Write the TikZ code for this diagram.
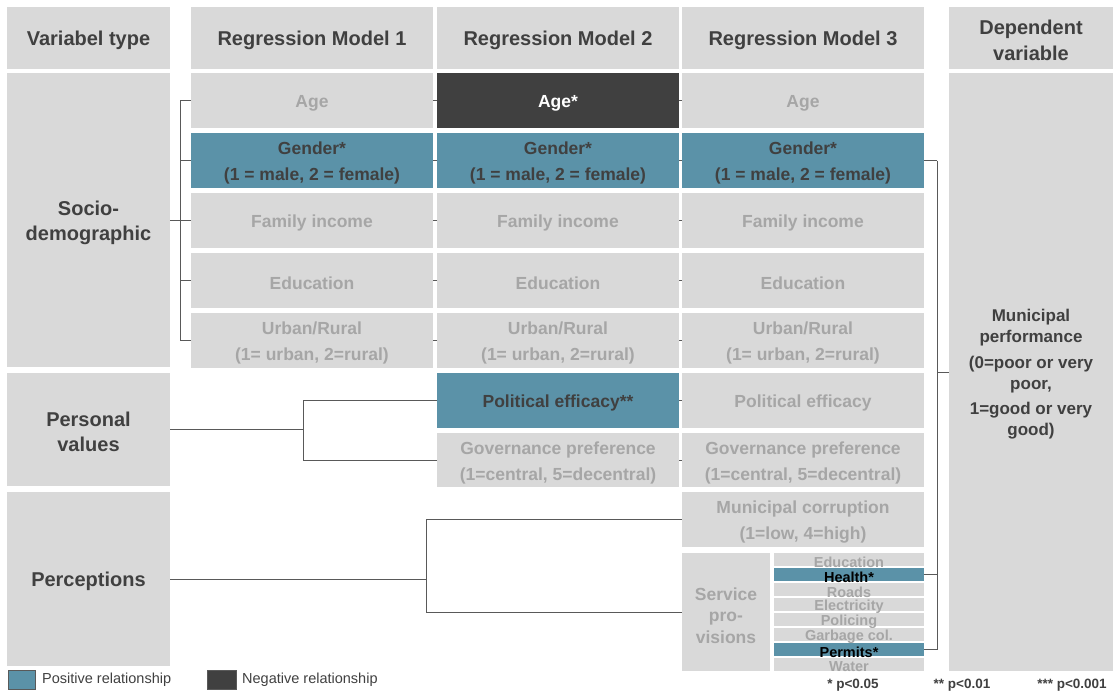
\documentclass[tikz,border=0pt]{standalone}
\usepackage{fontspec}
\setmainfont{Liberation Sans}
\definecolor{boxgray}{HTML}{D9D9D9}
\definecolor{tealbox}{HTML}{5B92A8}
\definecolor{darkbox}{HTML}{404040}
\definecolor{txtdark}{HTML}{404040}
\definecolor{txtlight}{HTML}{A6A6A6}
\definecolor{linec}{HTML}{595959}
\pgfdeclarelayer{bg}
\pgfsetlayers{bg,main}
\tikzset{
  boxg/.style={fill=boxgray, draw=none, inner sep=0pt},
  boxt/.style={fill=tealbox, draw=none, inner sep=0pt},
  boxd/.style={fill=darkbox, draw=none, inner sep=0pt},
  tl/.style={inner sep=0pt, align=center, yshift=-2.5pt,
    font=\bfseries\fontsize{17.5}{26}\selectfont, text=txtlight},
  td/.style={tl, text=txtdark},
  tw/.style={tl, text=white},
  th/.style={tl, text=txtdark, font=\bfseries\fontsize{20}{26}\selectfont},
  tsd/.style={th, font=\bfseries\fontsize{20}{25}\selectfont},
  ti/.style={tl, yshift=0pt, font=\bfseries\fontsize{14.5}{14.5}\selectfont},
  tib/.style={ti, text=black},
  conn/.style={draw=linec, line width=0.9pt},
  legtext/.style={anchor=west, inner sep=0pt, text=txtdark, font=\fontsize{14.5}{16}\selectfont},
  ptext/.style={inner sep=0pt, text=txtdark, font=\bfseries\fontsize{13.5}{16}\selectfont},
}
% name, box style, text style, x1, y1, x2, y2, text
\newcommand\cellbox[8]{%
  \node[#2, minimum width={#6-#4}, minimum height={#7-#5}] (#1) at ({(#4+#6)/2},{(#5+#7)/2}) {};
  \node[#3] (#1t) at (#1.center) {#8};}
\begin{document}
\begin{tikzpicture}[x=1pt, y=-1pt]
\useasboundingbox (0,0) rectangle (1114,694);
% headers
\cellbox{hVar}{boxg}{th}{7}{7}{170}{69}{Variabel type}
\cellbox{hM1}{boxg}{th}{191}{7}{433}{69}{Regression Model 1}
\cellbox{hM2}{boxg}{th}{437}{7}{679}{69}{Regression Model 2}
\cellbox{hM3}{boxg}{th}{682}{7}{924}{69}{Regression Model 3}
\cellbox{hDep}{boxg}{th}{949}{7}{1113}{69}{Dependent\\variable}
% variable types
\cellbox{socio}{boxg}{tsd}{7}{73}{170}{367}{Socio-\\demographic}
\cellbox{pers}{boxg}{tsd}{7}{373}{170}{486}{Personal\\values}
\cellbox{perc}{boxg}{th}{7}{492}{170}{666}{Perceptions}
% model 1
\cellbox{a1}{boxg}{tl}{191}{73}{433}{128}{Age}
\cellbox{g1}{boxt}{td}{191}{133}{433}{188}{Gender*\\(1 = male, 2 = female)}
\cellbox{f1}{boxg}{tl}{191}{193}{433}{248}{Family income}
\cellbox{e1}{boxg}{tl}{191}{253}{433}{308}{Education}
\cellbox{u1}{boxg}{tl}{191}{313}{433}{368}{Urban/Rural\\(1= urban, 2=rural)}
% model 2
\cellbox{a2}{boxd}{tw}{437}{73}{679}{128}{Age*}
\cellbox{g2}{boxt}{td}{437}{133}{679}{188}{Gender*\\(1 = male, 2 = female)}
\cellbox{f2}{boxg}{tl}{437}{193}{679}{248}{Family income}
\cellbox{e2}{boxg}{tl}{437}{253}{679}{308}{Education}
\cellbox{u2}{boxg}{tl}{437}{313}{679}{368}{Urban/Rural\\(1= urban, 2=rural)}
\cellbox{p2}{boxt}{td}{437}{373}{679}{428}{Political efficacy**}
\cellbox{v2}{boxg}{tl}{437}{433}{679}{487}{Governance preference\\(1=central, 5=decentral)}
% model 3
\cellbox{a3}{boxg}{tl}{682}{73}{924}{128}{Age}
\cellbox{g3}{boxt}{td}{682}{133}{924}{188}{Gender*\\(1 = male, 2 = female)}
\cellbox{f3}{boxg}{tl}{682}{193}{924}{248}{Family income}
\cellbox{e3}{boxg}{tl}{682}{253}{924}{308}{Education}
\cellbox{u3}{boxg}{tl}{682}{313}{924}{368}{Urban/Rural\\(1= urban, 2=rural)}
\cellbox{p3}{boxg}{tl}{682}{373}{924}{428}{Political efficacy}
\cellbox{v3}{boxg}{tl}{682}{433}{924}{487}{Governance preference\\(1=central, 5=decentral)}
\cellbox{c3}{boxg}{tl}{682}{492}{924}{547}{Municipal corruption\\(1=low, 4=high)}
\cellbox{s3}{boxg}{tl, yshift=-1pt, font=\bfseries\fontsize{17.5}{21.5}\selectfont}{682}{553}{770}{671}{Service\\pro-\\visions}
% service items
\cellbox{i1}{boxg}{ti}{774}{553}{924}{566}{Education}
\cellbox{i2}{boxt}{tib}{774}{568}{924}{581}{Health*}
\cellbox{i3}{boxg}{ti}{774}{583}{924}{596}{Roads}
\cellbox{i4}{boxg}{ti}{774}{598}{924}{611}{Electricity}
\cellbox{i5}{boxg}{ti}{774}{613}{924}{626}{Policing}
\cellbox{i6}{boxg}{ti}{774}{628}{924}{641}{Garbage col.}
\cellbox{i7}{boxt}{tib}{774}{643}{924}{656}{Permits*}
\cellbox{i8}{boxg}{ti}{774}{658}{924}{671}{Water}
% dependent
\cellbox{dep}{boxg}{td, font=\bfseries\fontsize{17}{21}\selectfont}{949}{73}{1113}{671}{Municipal\\performance\\[5pt](0=poor or very\\poor,\\[4pt]1=good or very\\good)}
% legend
\node[draw=linec, line width=0.6pt, fill=tealbox, minimum width=27pt, minimum height=19pt, inner sep=0pt] (lpos) at (21.5,679.5) {};
\node[legtext] (lposT) at (42,680) {Positive relationship};
\node[draw=linec, line width=0.6pt, fill=darkbox, minimum width=29pt, minimum height=19pt, inner sep=0pt] (lneg) at (221.5,679.5) {};
\node[legtext] (lnegT) at (242,680) {Negative relationship};
\node[ptext] (p1) at (853,685) {* p<0.05};
\node[ptext] (p2t) at (962,685) {** p<0.01};
\node[ptext] (p3t) at (1072,685) {*** p<0.001};
% connectors
\begin{pgfonlayer}{bg}
\coordinate (bs) at (180,220);
\coordinate (bp) at (303,429.5);
\coordinate (bq) at (426,579);
\coordinate (bd) at (937,372);
\draw[conn] (socio.east) -- (socio.east -| bs);
\draw[conn] (a1.west -| bs) -- (u1.west -| bs);
\draw[conn] (a1.west -| bs) -- (a3.west);
\draw[conn] (g1.west -| bs) -- (g3.east) -- (g3.east -| bd);
\draw[conn] (f1.west -| bs) -- (f3.west);
\draw[conn] (e1.west -| bs) -- (e3.west);
\draw[conn] (u1.west -| bs) -- (u3.west);
\draw[conn] (pers.east) -- (pers.east -| bp);
\draw[conn] (p3.west -| bp) -- (v3.west -| bp);
\draw[conn] (p3.west -| bp) -- (p3.west);
\draw[conn] (v3.west -| bp) -- (v3.west);
\draw[conn] (perc.east) -- (perc.east -| bq);
\draw[conn] (c3.west -| bq) -- (s3.west -| bq);
\draw[conn] (c3.west -| bq) -- (c3.west);
\draw[conn] (s3.west -| bq) -- (s3.west);
\draw[conn] (g3.east -| bd) -- (i7.east -| bd);
\draw[conn] (i2.east) -- (i2.east -| bd);
\draw[conn] (i7.east) -- (i7.east -| bd);
\draw[conn] (dep.west -| bd) -- (dep.west);
\end{pgfonlayer}
\end{tikzpicture}
\end{document}
